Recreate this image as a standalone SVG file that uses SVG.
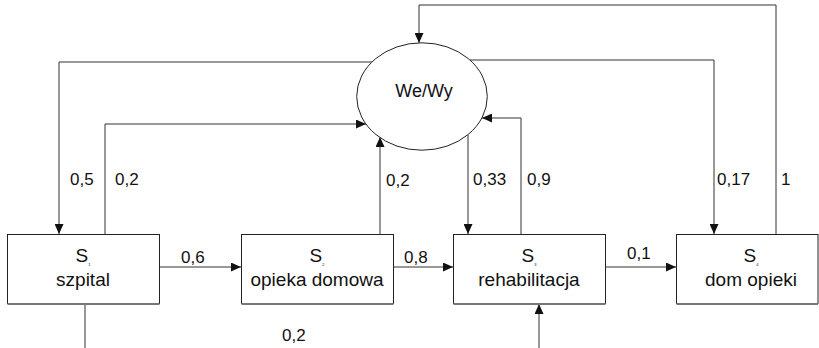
<svg xmlns="http://www.w3.org/2000/svg" width="819" height="348" viewBox="0 0 819 348">
<style>
  .box{fill:#fff;stroke:#222;stroke-width:1}
  .shadow{stroke:#777;stroke-width:2;fill:none}
  .conn{fill:none;stroke:#333;stroke-width:1}
  .t{font-family:"Liberation Sans",Arial,sans-serif;font-size:19px;fill:#111;text-anchor:middle}
  .sub{font-size:4px}
  .lbl{font-family:"Liberation Sans",Arial,sans-serif;font-size:17px;fill:#111}
</style>
<defs>
  <marker id="arr" markerUnits="userSpaceOnUse" markerWidth="10" markerHeight="9" refX="10" refY="4.5" orient="auto">
    <path d="M0,0 L10,4.5 L0,9 z" fill="#111"/>
  </marker>
</defs>
<rect width="819" height="348" fill="#fff"/>
<g id="connectors">
  <path class="conn" d="M419,5 L419,43" marker-end="url(#arr)"/>
  <path class="conn" d="M776,234 L776,5 L419,5"/>
  <path class="conn" d="M372,62 L59,62 L59,234" marker-end="url(#arr)"/>
  <path class="conn" d="M105,234 L105,124 L366,124" marker-end="url(#arr)"/>
  <path class="conn" d="M380,234 L380,137" marker-end="url(#arr)"/>
  <path class="conn" d="M470,60 L714,60 L714,234" marker-end="url(#arr)"/>
  <path class="conn" d="M468,135 L468,234" marker-end="url(#arr)"/>
  <path class="conn" d="M521,234 L521,118 L482,118" marker-end="url(#arr)"/>
  <path class="conn" d="M159,267 L241,267" marker-end="url(#arr)"/>
  <path class="conn" d="M393,267 L453,267" marker-end="url(#arr)"/>
  <path class="conn" d="M606,267 L676,267" marker-end="url(#arr)"/>
  <path class="conn" d="M85,304 L85,348.8 L539,348.8 L539,304" marker-end="url(#arr)"/>
  <text class="lbl" x="70" y="185">0,5</text>
  <text class="lbl" x="115" y="185">0,2</text>
  <text class="lbl" x="386" y="186">0,2</text>
  <text class="lbl" x="473" y="185">0,33</text>
  <text class="lbl" x="527" y="185">0,9</text>
  <text class="lbl" x="717" y="185">0,17</text>
  <text class="lbl" x="781" y="185">1</text>
  <text class="lbl" x="181" y="263">0,6</text>
  <text class="lbl" x="404" y="263">0,8</text>
  <text class="lbl" x="627" y="259">0,1</text>
  <text class="lbl" x="282" y="341">0,2</text>
</g>
<g id="we-wy">
  <ellipse cx="422" cy="96.5" rx="65.3" ry="53.7" fill="#fff" stroke="#222" stroke-width="1"/>
  <text class="t" x="424" y="97" style="font-size:18px">We/Wy</text>
</g>
<g id="s1">
  <rect class="box" x="7.5" y="234.5" width="152" height="69"/>
  <line class="shadow" x1="7.5" y1="304" x2="159.5" y2="304"/>
  <text class="t" x="83" y="262">S<tspan class="sub" dy="4">1</tspan></text>
  <text class="t" x="83" y="286">szpital</text>
</g>
<g id="s2">
  <rect class="box" x="241.5" y="234.5" width="152" height="69"/>
  <line class="shadow" x1="241.5" y1="304" x2="393.5" y2="304"/>
  <text class="t" x="317" y="262">S<tspan class="sub" dy="4">2</tspan></text>
  <text class="t" x="317" y="286">opieka domowa</text>
</g>
<g id="s3">
  <rect class="box" x="453.5" y="234.5" width="152" height="69"/>
  <line class="shadow" x1="453.5" y1="304" x2="605.5" y2="304"/>
  <text class="t" x="529" y="262">S<tspan class="sub" dy="4">3</tspan></text>
  <text class="t" x="529" y="286">rehabilitacja</text>
</g>
<g id="s4">
  <rect class="box" x="676.5" y="234.5" width="141.5" height="69"/>
  <line class="shadow" x1="676.5" y1="304" x2="818" y2="304"/>
  <text class="t" x="751" y="262">S<tspan class="sub" dy="4">4</tspan></text>
  <text class="t" x="751" y="286">dom opieki</text>
</g>
</svg>
